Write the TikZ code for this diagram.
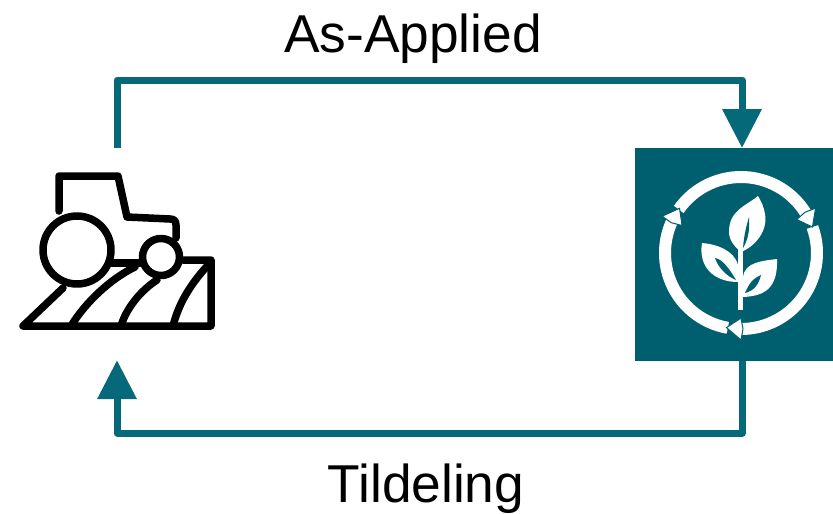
\documentclass[tikz,border=0pt]{standalone}
\usepackage{fontspec}
\setmainfont{Liberation Sans}
\usepackage{xcolor}
\usetikzlibrary{positioning,arrows.meta}
\definecolor{panelteal}{HTML}{005F6F}
\definecolor{flowteal}{HTML}{05697A}

\begin{document}
\begin{tikzpicture}[
  x=1pt,y=-1pt,
  every node/.style={font=\fontsize{53.3}{60}\selectfont},
  flow/.style={flowteal,line width=7pt,line join=round},
  flowtip/.style={-{Triangle[width=38pt,length=39pt]}},
  plough/.style={line width=7.5pt,line join=round,line cap=round},
  panelbox/.style={fill=panelteal,minimum width=198pt,minimum height=213pt,inner sep=0pt},
  tractorbox/.style={minimum width=200pt,minimum height=212pt,inner sep=0pt},
  ring/.style={white,line width=12pt},
  ringtip/.style={fill=white,draw=panelteal,line width=1pt,line join=miter},
  leaf/.style={fill=white},
  vein/.style={fill=panelteal}
]
  \useasboundingbox (0,0) rectangle (833,514);
  \node[tractorbox] (tractor) at (117,254) {};
  \node[panelbox] (panel) at (734,254.5) {};
  \coordinate (topleft) at (117,80);
  \coordinate (topright) at (742,80);
  \coordinate (panelin) at (742,148);
  \coordinate (panelout) at (742,361);
  \coordinate (botright) at (742,433);
  \coordinate (botleft) at (117,433);
  \draw[flow,flowtip] (tractor.north) -- (topleft) -- (topright) -- (panelin);
  \draw[flow,flowtip] (panelout) -- (botright) -- (botleft) -- (tractor.south);
  \node[anchor=base] (asapplied) at (413,52) {As-Applied};
  \node[anchor=base] (tildeling) at (426,502.5) {Tildeling};
  % tractor
  \draw[plough] (59,211) -- (59,176) -- (118,176) -- (127,217) -- (170,219)
    .. controls (174,219) and (176,221) .. (176,225) -- (176,238);
  \draw[plough] (77,250) circle (34);
  \draw[plough] (161,257) circle (18.5);
  \draw[plough] (112,263) -- (140,263);
  \draw[plough] (183,260) -- (211,260) -- (211,326) -- (23,326) -- (63,288);
  \draw[plough] (71,326) .. controls (85,303) and (110,279) .. (135,267);
  \draw[plough] (121,326) .. controls (126,309) and (140,291) .. (157,280);
  \draw[plough] (173,326) .. controls (179,302) and (192,282) .. (210,263);
  % cycle
  \begin{scope}[shift={(741,253)}]
    \draw[ring] (-20:76) arc (-20:90:76);
    \draw[ring] (100:76) arc (100:205:76);
    \draw[ring] (215:76) arc (215:329:76);
    \foreach \a in {-31,90,205}{
      \draw[ringtip] (\a:65) -- ({\a+11}:76) -- (\a:87) -- ({\a-1.5}:76) -- cycle;
    }
  \end{scope}
  % plant
  \fill[leaf] (738,248) rectangle (743,310);
  \fill[leaf] (758,196) .. controls (746,206) and (729,210) .. (729,232)
    .. controls (729,241) and (736,248) .. (741,252)
    .. controls (756,246) and (768,230) .. (765,214)
    .. controls (764,207) and (761,201) .. (758,196) -- cycle;
  \fill[vein] (743,248) .. controls (744,234) and (747,224) .. (749,217)
    .. controls (750,230) and (748,240) .. (743,248) -- cycle;
  \fill[leaf] (702,243) .. controls (716,244) and (734,250) .. (738,265)
    -- (738,282) .. controls (715,282) and (698,268) .. (702,243) -- cycle;
  \fill[vein] (715,258) .. controls (722,259) and (729,268) .. (736,280)
    .. controls (726,276) and (718,267) .. (715,258) -- cycle;
  \fill[leaf] (777,259) .. controls (762,261) and (745,262) .. (743,277)
    -- (743,297) .. controls (765,296) and (778,288) .. (777,259) -- cycle;
  \fill[vein] (745,293) .. controls (749,284) and (752,279) .. (761,275)
    .. controls (759,284) and (754,291) .. (745,293) -- cycle;
\end{tikzpicture}
\end{document}
